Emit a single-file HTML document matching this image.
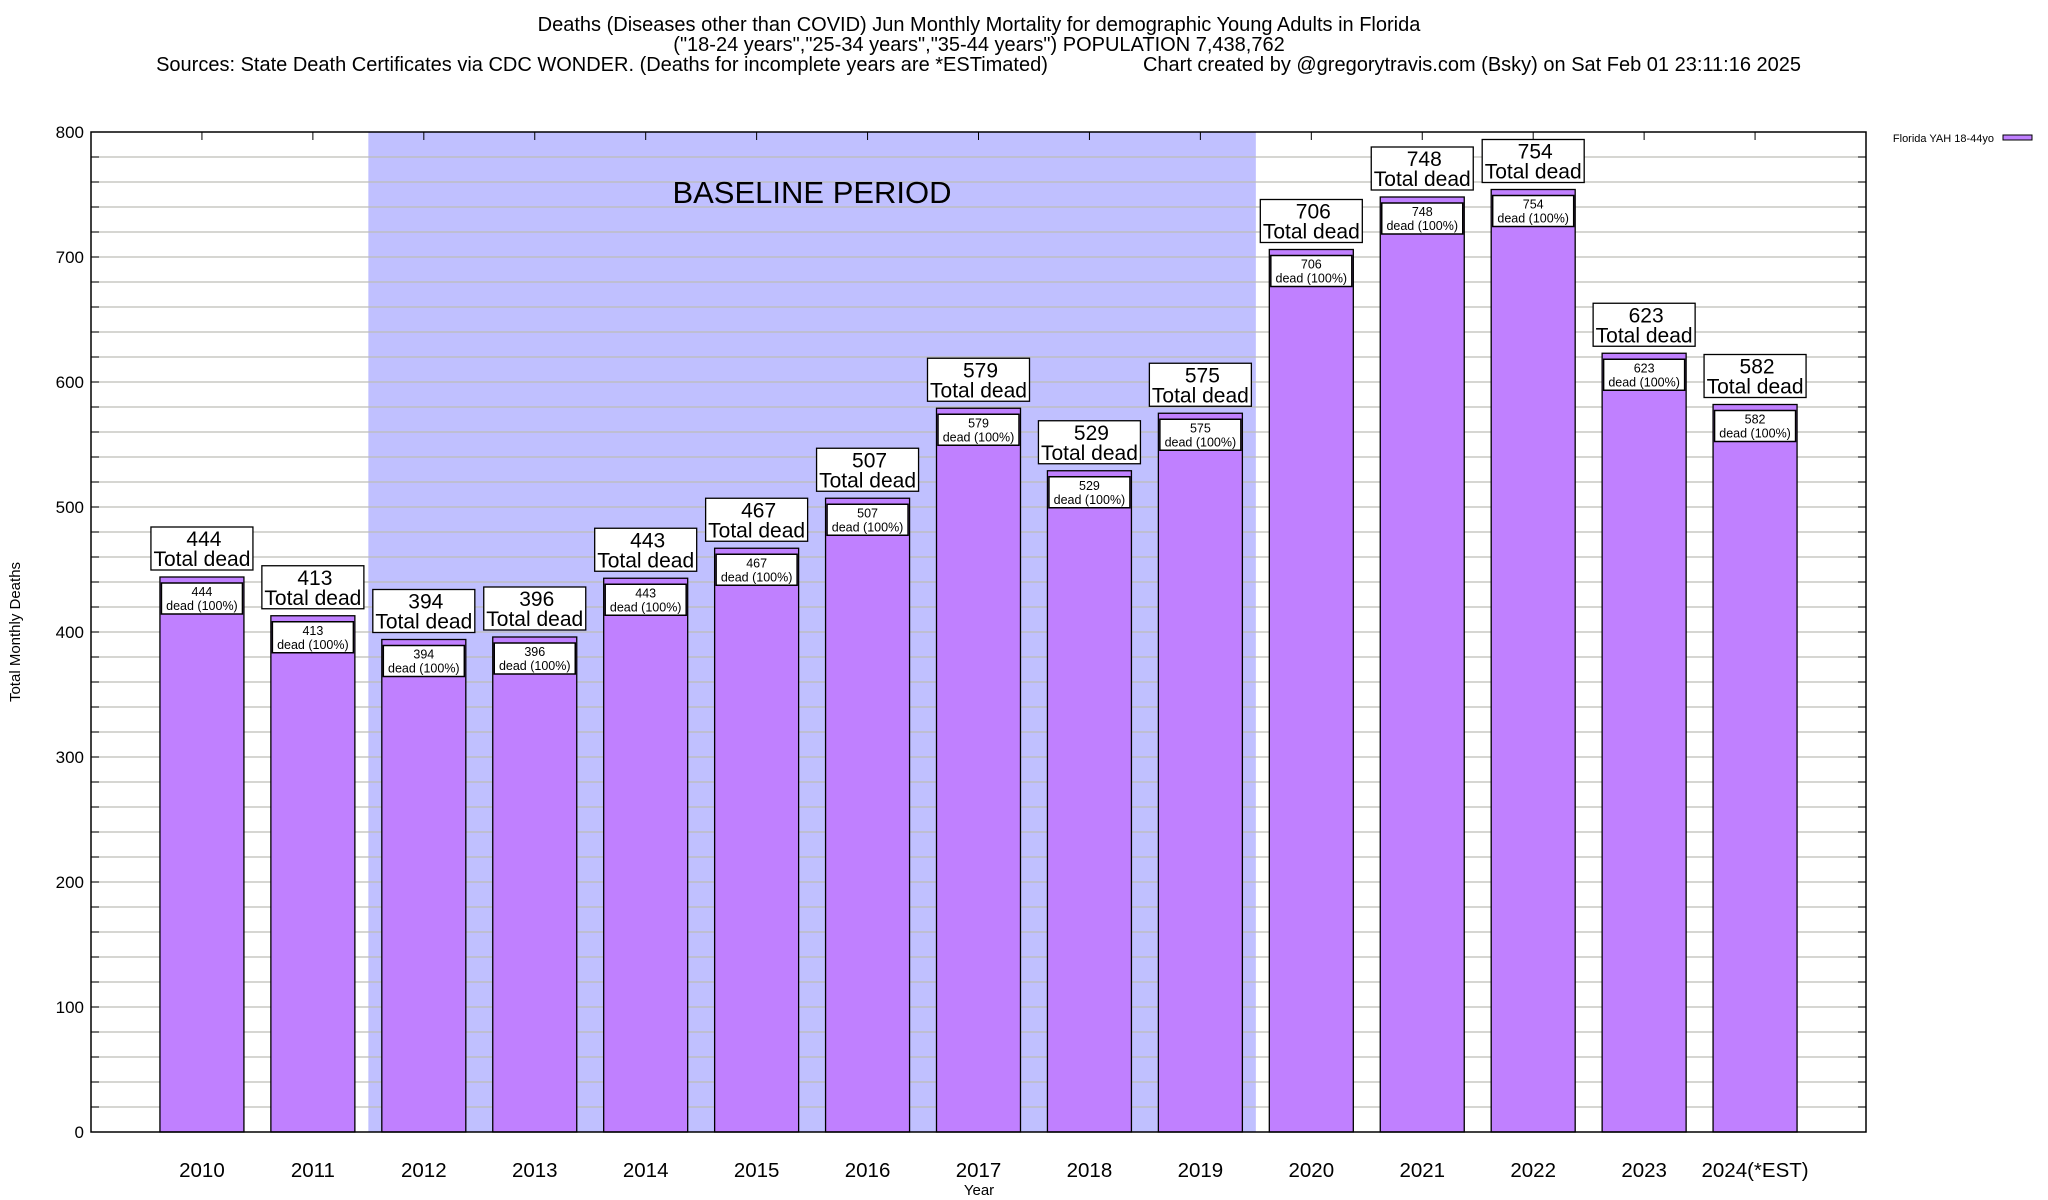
<!DOCTYPE html>
<html><head><meta charset="utf-8">
<style>
html,body{margin:0;padding:0;background:#fff;}
svg{display:block;font-family:"Liberation Sans",sans-serif;}
</style></head>
<body>
<svg id="chart" width="2048" height="1200" viewBox="0 0 2048 1200" xmlns="http://www.w3.org/2000/svg">
<g font-size="20" text-anchor="middle" fill="#000">
<text x="979" y="31">Deaths (Diseases other than COVID) Jun Monthly Mortality for demographic Young Adults in Florida</text>
<text x="979" y="51">("18-24 years","25-34 years","35-44 years") POPULATION 7,438,762</text>
<text x="602" y="71">Sources: State Death Certificates via CDC WONDER. (Deaths for incomplete years are *ESTimated)</text>
<text x="1472" y="71">Chart created by @gregorytravis.com (Bsky) on Sat Feb 01 23:11:16 2025</text>
</g>
<g id="plot"></g>
<text x="20" y="632" transform="rotate(-90 20 632)" font-size="15" text-anchor="middle">Total Monthly Deaths</text>
<text x="979" y="1195" font-size="15" text-anchor="middle">Year</text>
<g>
<text x="1994" y="142" font-size="11" text-anchor="end">Florida YAH 18-44yo</text>
<rect x="2003" y="135" width="29" height="5" fill="#c080ff" stroke="#000" stroke-width="1"/>
</g>
</svg>
<script>
const categories = ["2010","2011","2012","2013","2014","2015","2016","2017","2018","2019","2020","2021","2022","2023","2024(*EST)"];
const deaths = [444,413,394,396,443,467,507,579,529,575,706,748,754,623,582];
const yTicks = [0,100,200,300,400,500,600,700,800];
const baselineRange = [1.5, 9.5];

const NS = "http://www.w3.org/2000/svg";
const L = 91, R = 1866, T = 132, B = 1132;
const yMax = 800;
const slot = (R - L) / (categories.length + 1);
const xs = i => L + (i + 1) * slot;
const ys = v => B - (v / yMax) * (B - T);
const plot = document.getElementById('plot');
function mk(tag, attrs, parent, txt) {
  const e = document.createElementNS(NS, tag);
  for (const k in attrs) e.setAttribute(k, attrs[k]);
  if (txt !== undefined) e.textContent = txt;
  (parent || plot).appendChild(e);
  return e;
}
const bx1 = xs(baselineRange[0]), bx2 = xs(baselineRange[1]);
const shade = mk('rect', {x: bx1, y: T, width: bx2 - bx1, height: B - T, fill: '#c0c0ff'});


for (let v = 20; v < yMax; v += 20) {
  const y = ys(v);
  const g = mk('line', {x1: L, x2: R, y1: y, y2: y, stroke: '#bdbdb6', 'stroke-width': 1.2});
  
  
  mk('line', {x1: L, x2: L + 8, y1: y, y2: y, stroke: '#000', 'stroke-width': 1});
  mk('line', {x1: R - 8, x2: R, y1: y, y2: y, stroke: '#000', 'stroke-width': 1});
}
const bt = mk('text', {x: 812, y: 203, 'font-size': 31, 'text-anchor': 'middle'}, plot, 'BASELINE PERIOD');


yTicks.forEach(v => {
  const t = mk('text', {x: 84, y: ys(v) + 6, 'font-size': 17, 'text-anchor': 'end'}, plot, String(v));
  
  
});
const bw = 84;
categories.forEach((c, i) => {
  const cx = xs(i), v = deaths[i], top = ys(v);
  const g = mk('g', {});
  
  
  mk('rect', {x: cx - bw / 2, y: top, width: bw, height: B - top, fill: '#c080ff', stroke: '#000', 'stroke-width': 1.3}, g);
  mk('rect', {x: cx - bw / 2 + 1.5, y: top + 6, width: bw - 3, height: 31, fill: '#fff', stroke: '#000', 'stroke-width': 1.5}, g);
  mk('text', {x: cx, y: top + 19, 'font-size': 12.5, 'text-anchor': 'middle'}, g, String(v));
  mk('text', {x: cx, y: top + 33, 'font-size': 12.5, 'text-anchor': 'middle'}, g, 'dead (100%)');
  const lb = mk('g', {}, plot);
  
  
  mk('rect', {x: cx - 51, y: top - 50, width: 102, height: 43, fill: '#fff', stroke: '#000', 'stroke-width': 1.3}, lb);
  mk('text', {x: cx + 2, y: top - 31, 'font-size': 21, 'text-anchor': 'middle'}, lb, String(v));
  mk('text', {x: cx, y: top - 11, 'font-size': 21, 'text-anchor': 'middle'}, lb, 'Total dead');
  mk('line', {x1: cx, x2: cx, y1: T, y2: T + 8, stroke: '#000', 'stroke-width': 1});
  const xl = mk('text', {x: cx, y: 1177, 'font-size': 20.5, 'text-anchor': 'middle'}, plot, c);
  
  
});
const frame = mk('rect', {x: L, y: T, width: R - L, height: B - T, fill: 'none', stroke: '#000', 'stroke-width': 1.5});


</script>
</body></html>
